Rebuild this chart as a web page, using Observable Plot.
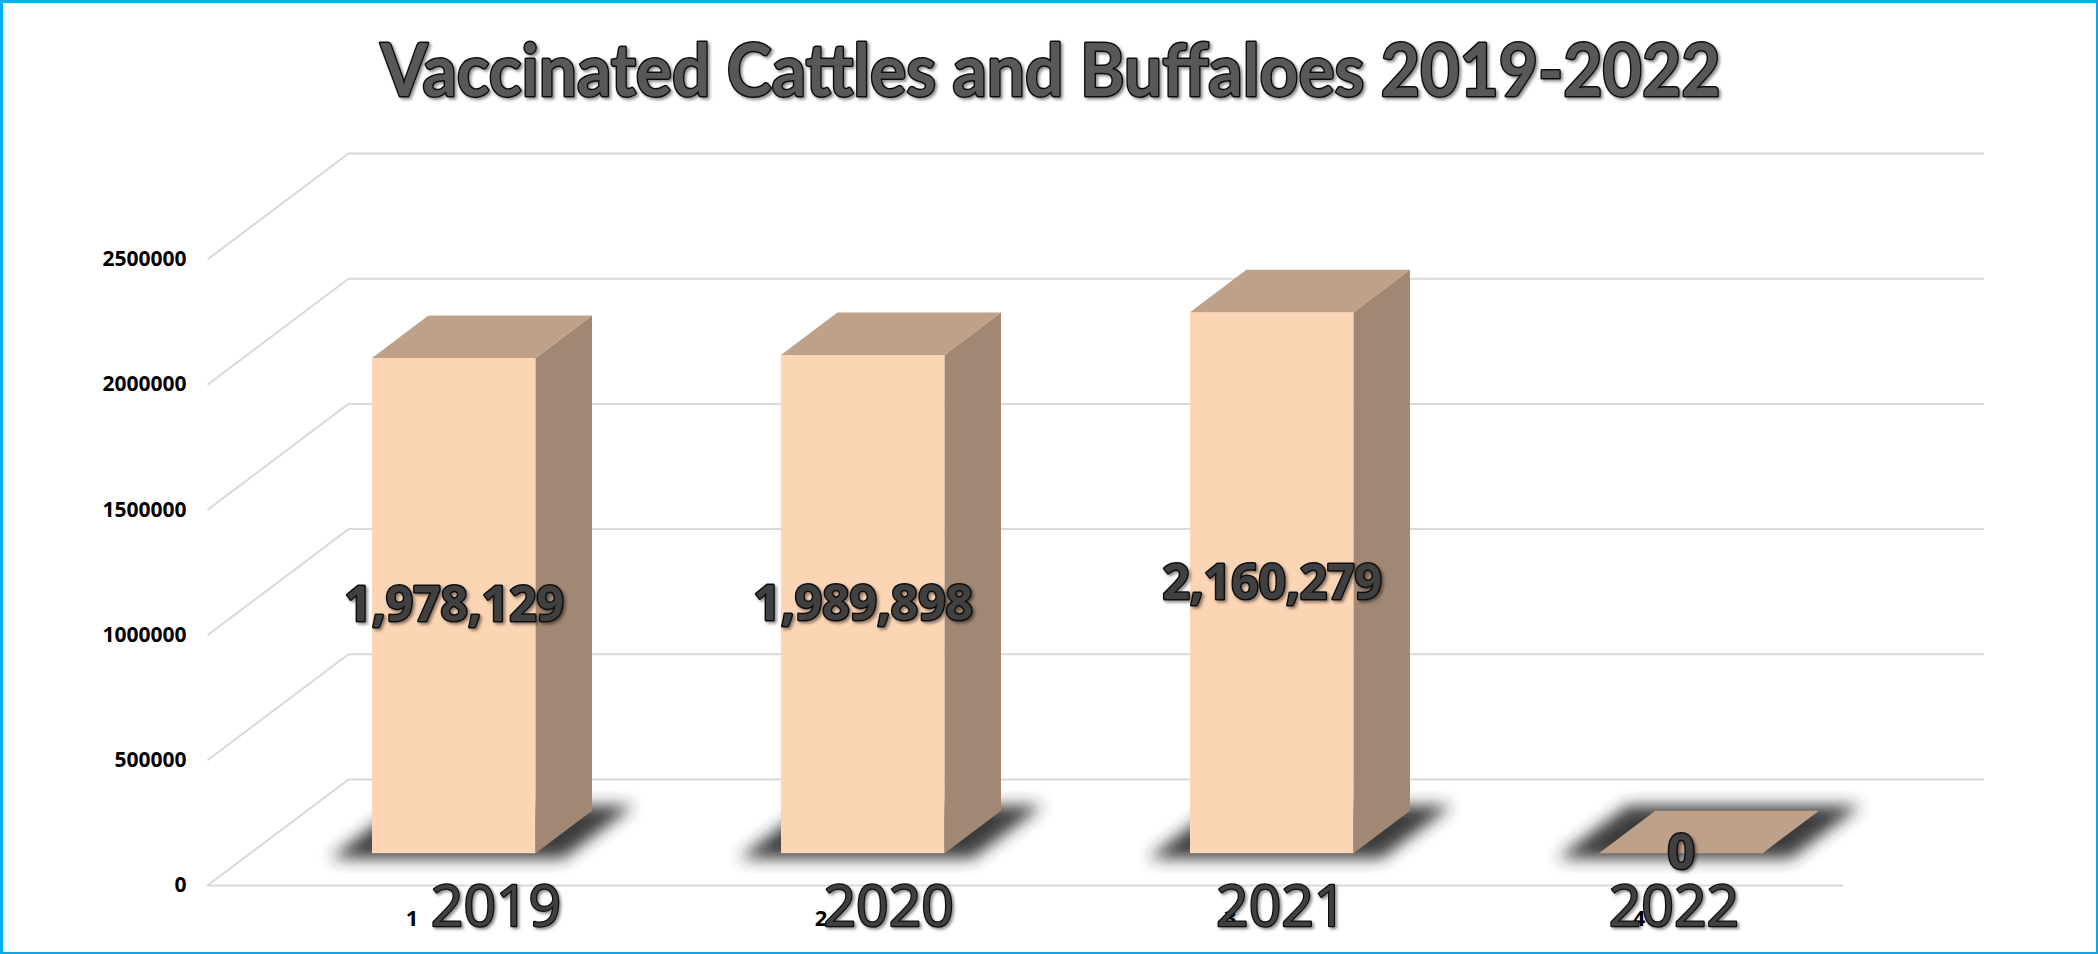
<!DOCTYPE html>
<html>
<head>
<meta charset="utf-8">
<script src="https://cdn.jsdelivr.net/npm/d3@7"></script>
<script src="https://cdn.jsdelivr.net/npm/@observablehq/plot@0.6"></script>
<style>
  html, body { margin: 0; padding: 0; background: #fff; }
  #wrap { position: relative; width: 2098px; height: 954px; overflow: hidden; background: #fff; }
  #border { position: absolute; left: 0; top: 0; right: 0; bottom: 0; pointer-events: none;
    border-top: 3px solid #00b0f0; border-left: 3px solid #00b0f0;
    border-right: 2px solid #1ba3dc; border-bottom: 2px solid #1ba3dc; box-sizing: border-box; }
</style>
</head>
<body>
<div id="wrap"><div id="chart"></div><div id="border"></div></div>
<script>
// ---- data ----
const title = "Vaccinated Cattles and Buffaloes 2019-2022";
const years = ["2019", "2020", "2021", "2022"];
const values = [1978129, 1989898, 2160279, 0];
const indexLabels = ["1", "2", "3", "4"];
const yTicks = [0, 500000, 1000000, 1500000, 2000000, 2500000];

// ---- layout / projection ----
const W = 2098, H = 954, mL = 207, mR = 255, mT = 259, mB = 69;
const yMax = 2500000;
const nCat = years.length;
const depthPx = [141, 106];
const dX = depthPx[0] / ((W - mL - mR) / nCat);
const dY = depthPx[1] / (H - mT - mB) * yMax;
const z0 = 0.3, z1 = 0.7, bw = 0.4, b0 = (1 - bw) / 2;
const labelSqueeze = 0.04;

const bars = years.map((year, i) => ({i, year, v: values[i]}));
const faceAt = (b, z) => ({i: b.i, xl: b.i + b0 + z * dX, xr: b.i + b0 + bw + z * dX, yb: z * dY, yt: b.v + z * dY});
const side = bars.flatMap(b => [z0, z1].map(z => faceAt(b, z)));
const sh = 0.085, sz = 0.05;
const floorShadow = bars.flatMap(b => [z0 - sz, z1 + sz].map(z => ({
  key: b.i, sy: z * dY, sx1: b.i + b0 - sh + z * dX, sx2: b.i + b0 + bw + sh + z * dX
})));

const grid = {stroke: "#d9d9d9", strokeWidth: 2};
const outlined = {fill: "#404040", stroke: "#111", strokeWidth: 3};

const plot = Plot.plot({
  width: W, height: H,
  marginLeft: mL, marginRight: mR, marginTop: mT, marginBottom: mB,
  x: {domain: [0, nCat], axis: null},
  y: {domain: [0, yMax], axis: null},
  style: {fontFamily: "Open Sans", fontSize: "20px", color: "#000", background: "#fff", overflow: "visible"},
  marks: [
    Plot.ruleY(yTicks, {y: d => d + dY, x1: dX, x2: nCat + dX, ...grid}),
    Plot.link(yTicks, {x1: 0, y1: d => d, x2: dX, y2: d => d + dY, ...grid}),
    Plot.ruleY([0], {x1: 0, x2: nCat, ...grid}),
    Plot.axisY(yTicks, {anchor: "left", tickSize: 0, tickPadding: 21, tickFormat: d => String(d),
      fontSize: 21, fontWeight: "bold", fontFamily: "Open Sans", label: null}),
    Plot.areaX(floorShadow, {y: "sy", x1: "sx1", x2: "sx2", z: "key", fill: "#262626", ariaDescription: "shadow"}),
    Plot.rect(bars, {x1: b => faceAt(b, z0).xl, x2: b => faceAt(b, z0).xr, y1: z0 * dY, y2: b => b.v + z0 * dY, fill: "#fcd5b5"}),
    Plot.areaY(side, {x: "xr", y1: "yb", y2: "yt", z: "i", fill: "#a18874"}),
    Plot.areaX(side, {y: "yt", x1: "xl", x2: "xr", z: "i", fill: "#bfa089"}),
    Plot.text(bars, {x: b => b.i + 0.5 + z0 * dX, y: b => b.v / 2 + z0 * dY, text: b => d3.format(",")(b.v),
      fontSize: 48, fontWeight: "bold", fontFamily: "Open Sans", ...outlined, ariaDescription: "values"}),
    Plot.text(bars, {x: b => b.i + 0.5, y: 0, dy: 33, text: b => indexLabels[b.i],
      fontSize: 22, fontWeight: "bold", fontFamily: "Open Sans", fill: "#000"}),
    Plot.text(bars, {x: b => b.i * (1 - labelSqueeze) + 0.5, y: 0, dx: 84, dy: 22, text: "year",
      fontSize: 57, fontFamily: "Open Sans", fill: "#404040", stroke: "#111", strokeWidth: 2.5, ariaDescription: "years"}),
    Plot.text([title], {frameAnchor: "top", dx: 25, dy: -215, fontSize: 72, fontWeight: "bold", fontFamily: "Lato",
      fill: "#595959", stroke: "#111", strokeWidth: 3, ariaDescription: "title"})
  ]
});
document.getElementById("chart").appendChild(plot);

// effects: blur for shadows, soft text shadows, title width
const svg = d3.select(plot);
const defs = svg.insert("defs", ":first-child");
defs.append("filter").attr("id", "shblur").attr("filterUnits", "userSpaceOnUse")
  .attr("x", 0).attr("y", 0).attr("width", W).attr("height", H)
  .append("feGaussianBlur").attr("stdDeviation", 8);
const ds = defs.append("filter").attr("id", "txtshadow").attr("filterUnits", "userSpaceOnUse")
  .attr("x", 0).attr("y", 0).attr("width", W).attr("height", H);
ds.append("feDropShadow").attr("dx", 2).attr("dy", 2).attr("stdDeviation", 1.5)
  .attr("flood-color", "#000").attr("flood-opacity", 0.45);
svg.select('g[aria-description="shadow"]').attr("filter", "url(#shblur)").attr("opacity", 0.9);
svg.selectAll('g[aria-description="values"], g[aria-description="years"], g[aria-description="title"]')
  .attr("filter", "url(#txtshadow)");
svg.select('g[aria-description="title"] text').attr("textLength", 1340).attr("lengthAdjust", "spacingAndGlyphs");
</script>
</body>
</html>
